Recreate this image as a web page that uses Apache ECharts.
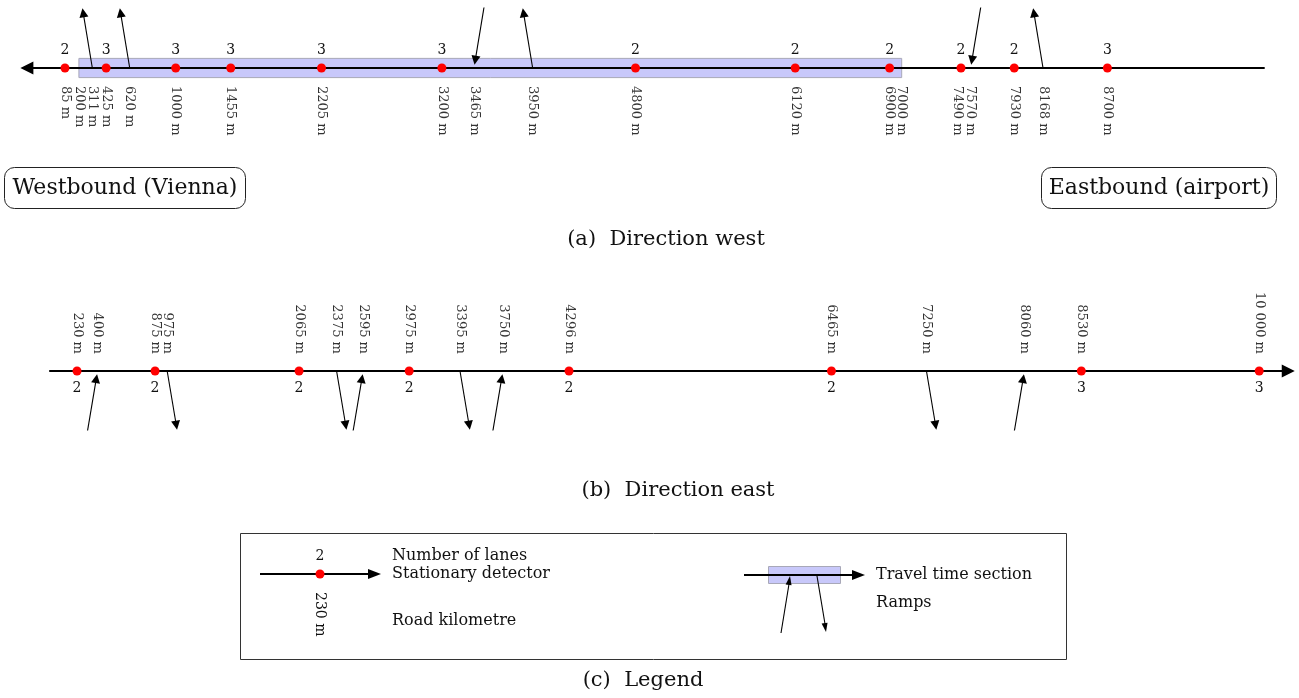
<!DOCTYPE html>
<html><head><meta charset="utf-8">
<script src="https://cdn.jsdelivr.net/npm/echarts@6/dist/echarts.min.js"></script>
<style>html,body{margin:0;padding:0;background:#fff}#c{width:1299px;height:698px}</style>
</head><body><div id="c"></div>
<script>
// ---------- data (road kilometres in metres) ----------
const westDetectorKm    = [85, 425, 1000, 1455, 2205, 3200, 4800, 6120, 6900, 7490, 7930, 8700];
const westDetectorLanes = [2, 3, 3, 3, 3, 3, 2, 2, 2, 2, 2, 3];
const westOnRampKm      = [3465, 7570];
const westOffRampKm     = [311, 620, 3950, 8168];
const westSectionKm     = [200, 7000];
const westKmLabels      = [85, 200, 311, 425, 620, 1000, 1455, 2205, 3200, 3465, 3950, 4800, 6120, 6900, 7000, 7490, 7570, 7930, 8168, 8700];
const westRoadKm        = [10000, -230];   // drawn from east end towards the west arrow

const eastDetectorKm    = [230, 875, 2065, 2975, 4296, 6465, 8530, 10000];
const eastDetectorLanes = [2, 2, 2, 2, 2, 2, 3, 3];
const eastOnRampKm      = [400, 2595, 3750, 8060];
const eastOffRampKm     = [975, 2375, 3395, 7250];
const eastKmLabels      = [230, 400, 875, 975, 2065, 2375, 2595, 2975, 3395, 3750, 4296, 6465, 7250, 8060, 8530, 10000];
const eastRoadKm        = [0, 10240];

// ---------- styling ----------
const FONT = '"DejaVu Serif", "Liberation Serif", serif';
const INK = '#111';
const RED = '#ff0000';
const SECTION_FILL = '#c8c8fa';
const SECTION_BORDER = '#a8a8b8';
const SLANT = 82; // horizontal drift of a ramp per unit of y (metres)
const LABEL_NUDGE_PX = {7490: -4}; // screen nudges (px, + = right) for crowded labels

function kmText(v) {
  const s = v >= 10000 ? String(v).replace(/(\d)(?=(\d{3})+$)/g, '$1 ') : String(v);
  return s + ' m';
}

// West: road at y=0, ramps go up (y>0). Traffic heads west (left).
const westOffCoords = westOffRampKm.map(k => ({coords: [[k, 0], [k - SLANT * 0.92, 0.92]]}));
const westOnCoords  = westOnRampKm.map(k => ({coords: [[k + SLANT * 1.05, 1.05], [k + SLANT * 0.13, 0.13]]}));
// East: road at y=0, ramps go down (y<0). Traffic heads east (right).
const eastOffCoords = eastOffRampKm.map(k => ({coords: [[k, 0], [k + SLANT * 0.92, -0.92]]}));
const eastOnCoords  = eastOnRampKm.map(k => ({coords: [[k - SLANT * 1.03, -1.03], [k - SLANT * 0.13, -0.13]]}));

function roadSeries(idx, km) {
  return {
    type: 'lines', coordinateSystem: 'cartesian2d', xAxisIndex: idx, yAxisIndex: idx,
    z: 3, silent: true, polyline: false,
    symbol: ['none', 'triangle'], symbolSize: [10, 13],
    lineStyle: {color: '#000', width: 2, opacity: 1, curveness: 0},
    data: [{coords: [[km[0], 0], [km[1], 0]]}]
  };
}
function rampSeries(idx, data) {
  return {
    type: 'lines', coordinateSystem: 'cartesian2d', xAxisIndex: idx, yAxisIndex: idx,
    z: 4, silent: true, polyline: false,
    symbol: ['none', 'triangle'], symbolSize: [6, 9],
    lineStyle: {color: '#000', width: 1.1, opacity: 1, curveness: 0},
    data: data
  };
}
function detectorSeries(idx, km, lanes, pos) {
  return {
    type: 'scatter', xAxisIndex: idx, yAxisIndex: idx, z: 6, silent: true,
    symbol: 'circle', symbolSize: 9,
    itemStyle: {color: RED, opacity: 1},
    label: {show: true, position: pos, distance: 6, color: INK, fontFamily: FONT, fontSize: 14,
            formatter: p => String(lanes[p.dataIndex])},
    data: km.map(k => [k, 0])
  };
}
function kmLabelSeries(idx, km, yPos, align, extra) {
  return Object.assign({
    type: 'scatter', xAxisIndex: idx, yAxisIndex: idx, z: 5, silent: true,
    symbol: 'circle', symbolSize: 0,
    itemStyle: {color: 'transparent'},
    label: {show: true, position: 'inside', rotate: -90, align: align, verticalAlign: 'middle',
            color: '#000', fontFamily: FONT, fontSize: 13,
            formatter: p => kmText(km[p.dataIndex])},
    // label offset is expressed in the rotated text frame: text-y points to screen-left
    data: km.map(k => LABEL_NUDGE_PX[k]
      ? {value: [k, yPos], label: {offset: [0, -LABEL_NUDGE_PX[k]]}}
      : {value: [k, yPos]})
  }, extra || {});
}

// ---------- legend (drawn as graphic decoration) ----------
function arrowHead(tx, ty, fx, fy, len, wid) {
  const dx = tx - fx, dy = ty - fy, L = Math.hypot(dx, dy);
  const ux = dx / L, uy = dy / L, nx = -uy, ny = ux;
  const bx = tx - ux * len, by = ty - uy * len;
  return {type: 'polygon', silent: true, shape: {points: [[tx, ty], [bx + nx * wid / 2, by + ny * wid / 2], [bx - nx * wid / 2, by - ny * wid / 2]]}, style: {fill: '#000'}};
}
function txt(x, y, s, size, align, extra) {
  return Object.assign({type: 'text', x: x, y: y, silent: true,
    style: {text: s, font: size + 'px ' + FONT, fill: INK, align: align || 'center', verticalAlign: 'middle',
            textAlign: align || 'center', textVerticalAlign: 'middle'}}, extra || {});
}
const graphics = [
  // direction boxes
  {type: 'rect', silent: true, shape: {x: 4.5, y: 167.5, width: 241, height: 41, r: 10}, style: {fill: '#fff', stroke: '#222', lineWidth: 1}},
  txt(125, 188, 'Westbound (Vienna)', 22),
  {type: 'rect', silent: true, shape: {x: 1041.5, y: 167.5, width: 235, height: 41, r: 10}, style: {fill: '#fff', stroke: '#222', lineWidth: 1}},
  txt(1159, 188, 'Eastbound (airport)', 22),
  // captions
  txt(666, 240, '(a)  Direction west', 21),
  txt(678, 491, '(b)  Direction east', 21),
  txt(643, 681, '(c)  Legend', 21),
  // legend frame
  {type: 'rect', silent: true, shape: {x: 240.5, y: 533.5, width: 826, height: 126}, style: {fill: 'none', stroke: '#333', lineWidth: 1}},
  // legend left
  {type: 'line', silent: true, shape: {x1: 260, y1: 574, x2: 372, y2: 574}, style: {stroke: '#000', lineWidth: 2}},
  arrowHead(381, 574, 260, 574, 13, 10),
  {type: 'circle', silent: true, shape: {cx: 320, cy: 574, r: 4.5}, style: {fill: RED}},
  txt(320, 556, '2', 14),
  txt(320, 592, '230 m', 14, 'left', {rotation: -Math.PI / 2}),
  txt(392, 556, 'Number of lanes', 16, 'left'),
  txt(392, 574, 'Stationary detector', 16, 'left'),
  txt(392, 621, 'Road kilometre', 16, 'left'),
  // legend right
  {type: 'rect', silent: true, shape: {x: 768.5, y: 566.5, width: 72, height: 17}, style: {fill: SECTION_FILL, stroke: SECTION_BORDER, lineWidth: 1}},
  {type: 'line', silent: true, shape: {x1: 744, y1: 575, x2: 856, y2: 575}, style: {stroke: '#000', lineWidth: 2}},
  arrowHead(865, 575, 744, 575, 13, 10),
  {type: 'line', silent: true, shape: {x1: 781, y1: 633, x2: 789, y2: 584}, style: {stroke: '#000', lineWidth: 1.1}},
  arrowHead(790, 576, 781, 633, 9, 6),
  {type: 'line', silent: true, shape: {x1: 817, y1: 576, x2: 825, y2: 624}, style: {stroke: '#000', lineWidth: 1.1}},
  arrowHead(826, 632, 817, 576, 9, 6),
  txt(876, 575, 'Travel time section', 16, 'left'),
  txt(876, 603, 'Ramps', 16, 'left')
];

const hiddenAxis = {show: false, splitLine: {show: false}, axisLine: {show: false}, axisTick: {show: false}, axisLabel: {show: false}};

const option = {
  animation: false,
  backgroundColor: '#fff',
  grid: [
    {left: 18.4, width: 1258.4, top: 8, height: 120},
    {left: 12.9, width: 1282.6, top: 312, height: 118}
  ],
  xAxis: [
    Object.assign({type: 'value', gridIndex: 0, min: -300, max: 10100}, hiddenAxis),
    Object.assign({type: 'value', gridIndex: 1, min: -300, max: 10300}, hiddenAxis)
  ],
  yAxis: [
    Object.assign({type: 'value', gridIndex: 0, min: -1, max: 1}, hiddenAxis),
    Object.assign({type: 'value', gridIndex: 1, min: -1, max: 1}, hiddenAxis)
  ],
  series: [
    kmLabelSeries(0, westKmLabels, -0.3, 'left', {
      markArea: {silent: true, z: 1,
        itemStyle: {color: SECTION_FILL, borderColor: SECTION_BORDER, borderWidth: 1, opacity: 1},
        label: {show: false},
        data: [[{xAxis: westSectionKm[0], yAxis: -0.16}, {xAxis: westSectionKm[1], yAxis: 0.16}]]}
    }),
    roadSeries(0, westRoadKm),
    rampSeries(0, westOffCoords.concat(westOnCoords)),
    detectorSeries(0, westDetectorKm, westDetectorLanes, 'top'),

    kmLabelSeries(1, eastKmLabels, 0.29, 'right'),
    roadSeries(1, eastRoadKm),
    rampSeries(1, eastOffCoords.concat(eastOnCoords)),
    detectorSeries(1, eastDetectorKm, eastDetectorLanes, 'bottom')
  ],
  graphic: graphics
};

const chart = echarts.init(document.getElementById('c'), null, {renderer: 'canvas'});
chart.setOption(option);
</script>
</body></html>
